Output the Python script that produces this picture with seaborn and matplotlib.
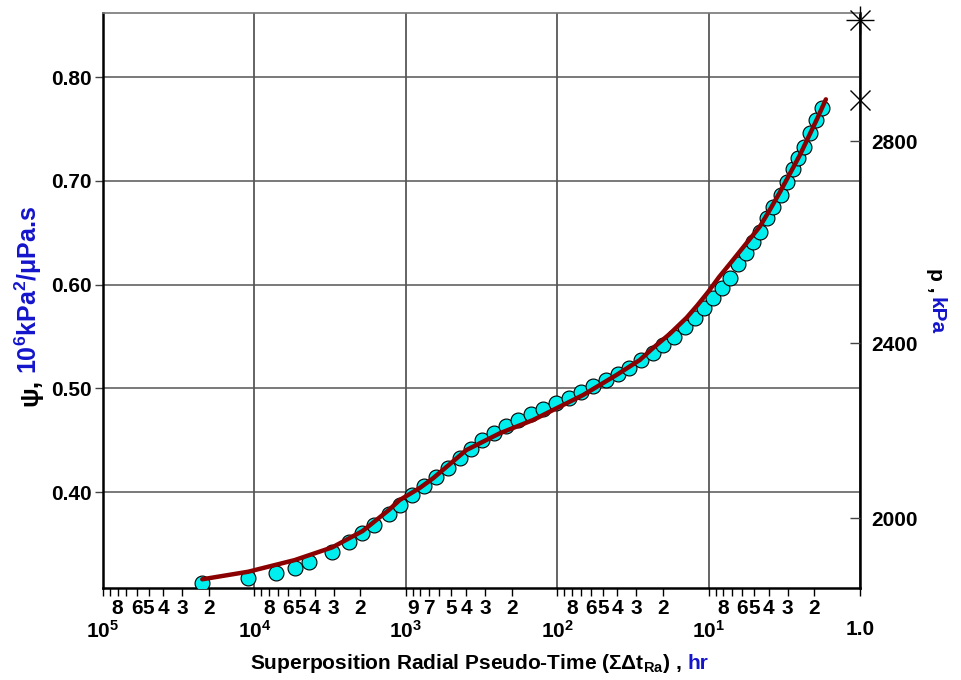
import matplotlib
matplotlib.use("Agg")
import matplotlib.pyplot as plt
import pandas as pd
import seaborn as sns

# Measured pseudo-pressure vs superposition radial pseudo-time
t_data = [22100, 10970, 7243, 5424, 4364, 3056, 2374, 1936, 1623, 1297,
          1086, 914, 761.5, 634.5, 528.6, 440.4, 372.5, 311.7, 261.3, 218.7,
          181.3, 147.9, 123.9, 102.2, 83.8, 69.8, 57.9, 47.7, 39.6, 33.6,
          28.1, 23.4, 19.96, 16.96, 14.34, 12.32, 10.69, 9.32, 8.21, 7.23,
          6.37, 5.67, 5.12, 4.58, 4.14, 3.74, 3.33, 3.05, 2.79, 2.56,
          2.33, 2.14, 1.95, 1.79]
psi_data = [0.3120, 0.3168, 0.3216, 0.3270, 0.3322, 0.3425, 0.3515, 0.3602, 0.3682, 0.3788,
            0.3875, 0.3976, 0.4058, 0.4147, 0.4234, 0.4325, 0.4412, 0.4501, 0.4572, 0.4639,
            0.4694, 0.4752, 0.4797, 0.4855, 0.4909, 0.4967, 0.5022, 0.5080, 0.5137, 0.5200,
            0.5272, 0.5343, 0.5417, 0.5497, 0.5587, 0.5680, 0.5771, 0.5867, 0.5963, 0.6060,
            0.6198, 0.6304, 0.6410, 0.6509, 0.6638, 0.6744, 0.6863, 0.6991, 0.7110, 0.7216,
            0.7328, 0.7463, 0.7586, 0.7698]

# Model match
t_model = [22100, 10970, 5424, 3056, 1930, 1294, 1097, 809, 661, 397.7,
           239.5, 144.3, 101.1, 67.4, 40.6, 28.5, 23.2, 18.03, 13.98, 11.86,
           10.05, 8.55, 7.23, 5.61, 4.58, 3.94, 3.38, 2.49, 1.93, 1.68]
psi_model = [0.3159, 0.3232, 0.3344, 0.3467, 0.3624, 0.3827, 0.3923, 0.4039, 0.4132, 0.4405,
             0.4566, 0.4694, 0.4807, 0.4935, 0.5128, 0.5272, 0.5390, 0.5525, 0.5680, 0.5800,
             0.5930, 0.6070, 0.6200, 0.6400, 0.6560, 0.6720, 0.6890, 0.7250, 0.7590, 0.7785]

# Pressure markers at the start of the time axis (psi values)
psi_initial = [0.8549, 0.7778]

# Pressure scale (kPa) and the pseudo-pressure where each value falls
p_ticks = [2000, 2400, 2800]
psi_at_p = [0.3749, 0.5434, 0.7383]

psi_ticks = [0.40, 0.50, 0.60, 0.70, 0.80]
decades = [1e5, 1e4, 1e3, 1e2, 1e1, 1.0]
decade_labels = [r"$10^{5}$", r"$10^{4}$", r"$10^{3}$", r"$10^{2}$", r"$10^{1}$", "1.0"]
labelled_minor = {
    4: [8, 6, 5, 4, 3, 2],
    3: [8, 6, 5, 4, 3, 2],
    2: [9, 7, 5, 4, 3, 2],
    1: [8, 6, 5, 4, 3, 2],
    0: [8, 6, 5, 4, 3, 2],
}

sns.set_style("white")
plt.rcParams["font.family"] = ["Liberation Sans", "DejaVu Sans"]
plt.rcParams["font.weight"] = "bold"
plt.rcParams["text.color"] = "black"
plt.rcParams["xtick.color"] = "black"
plt.rcParams["ytick.color"] = "black"
plt.rcParams["mathtext.fontset"] = "custom"
plt.rcParams["mathtext.rm"] = "Liberation Sans:bold"
plt.rcParams["mathtext.it"] = "Liberation Sans:bold"
plt.rcParams["mathtext.bf"] = "Liberation Sans:bold"
plt.rcParams["mathtext.default"] = "rm"

BLUE = "#1414cc"
W, H = 961, 680
fig = plt.figure(figsize=(W / 100, H / 100), dpi=100)
fig.patch.set_facecolor("white")
ax = fig.add_axes([103 / W, 1 - 588 / H, (860 - 103) / W, (588 - 13) / H])
ax.set_facecolor("white")
ax.set_xscale("log")

df_pts = pd.DataFrame({"t": t_data, "psi": psi_data})
df_fit = pd.DataFrame({"t": t_model, "psi": psi_model})

sns.scatterplot(data=df_pts, x="t", y="psi", ax=ax, s=115, color="#00eeee",
                edgecolor="black", linewidth=0.8, zorder=3, legend=False)
sns.lineplot(data=df_fit, x="t", y="psi", ax=ax, sort=False, estimator=None,
             color="#8b0000", linewidth=3.2, zorder=4, legend=False)

ax.set_xlim(1e5, 1.0)
ylim = (0.3075, 0.8617)
ax.set_ylim(*ylim)

# x ticks: decades below, digit multipliers just under the axis
ax.set_xticks(decades)
ax.set_xticklabels(decade_labels)
minor_pos, minor_lab = [], []
for d in range(4, -1, -1):
    for k in range(9, 1, -1):
        minor_pos.append(k * 10.0 ** d)
        minor_lab.append(str(k) if k in labelled_minor[d] else "")
ax.set_xticks(minor_pos, minor=True)
ax.set_xticklabels(minor_lab, minor=True)
ax.tick_params(axis="x", which="both", bottom=True, direction="out", length=6,
               width=1, color="black", labelcolor="black", labelsize=15)
ax.tick_params(axis="x", which="minor", pad=2)
ax.tick_params(axis="x", which="major", pad=17)

ax.set_yticks(psi_ticks)
ax.set_yticklabels([f"{v:.2f}" for v in psi_ticks])
ax.tick_params(axis="y", which="major", left=True, direction="out", length=6,
               width=1, color="#444444", labelcolor="black", labelsize=15, pad=2)
ax.yaxis.set_minor_locator(matplotlib.ticker.NullLocator())

ax.grid(True, which="major", axis="x", color="#3a3a3a", linewidth=1.1)
ax.grid(True, which="major", axis="y", color="#555555", linewidth=1.1)
ax.set_axisbelow(True)
ax.set_xlabel("")
ax.set_ylabel("")

for side in ["left", "bottom", "right"]:
    ax.spines[side].set_color("black")
    ax.spines[side].set_linewidth(1.8)
ax.spines["top"].set_color("#777777")
ax.spines["top"].set_linewidth(1.2)

# Right-hand pressure scale
ax2 = ax.twinx()
ax2.set_ylim(*ylim)
ax2.set_yticks(psi_at_p)
ax2.set_yticklabels([str(p) for p in p_ticks])
ax2.tick_params(axis="y", right=True, direction="in", length=7, width=1,
                color="#444444", labelcolor="black", labelsize=15, pad=8)
ax2.grid(False)
for s in ax2.spines.values():
    s.set_visible(False)

# Initial pressure markers on the right edge
ax.plot([1.0], [psi_initial[0]], marker="+", ms=20, mew=1, color="black",
        clip_on=False, zorder=6)
ax.plot([1.0, 1.0], psi_initial, marker="x", ms=14.5, mew=1, color="black",
        linestyle="none", clip_on=False, zorder=6)

# Axis titles with mixed colours
fig.canvas.draw()
renderer = fig.canvas.get_renderer()


def px(x, y):
    return x / W, 1 - y / H


x0, y0 = px(250, 669)
tx = fig.text(x0, y0, r"Superposition Radial Pseudo-Time (ΣΔt$_{Ra}$) ,",
              fontsize=15, fontweight="bold", color="black", va="baseline", ha="left")
bb = tx.get_window_extent(renderer)
fig.text((bb.x1 + 6) / W, y0, "hr", fontsize=15, fontweight="bold", color=BLUE,
         va="baseline", ha="left")

xl, yl = px(37, 406)
ty = fig.text(xl, yl, "ψ,", fontsize=19, fontweight="bold", color="black",
              rotation=90, rotation_mode="anchor", va="baseline", ha="left")
bb = ty.get_window_extent(renderer)
fig.text(xl, (bb.y1 + 5) / H, r"10$^{6}$kPa$^{2}$/μPa.s", fontsize=18,
         fontweight="bold", color=BLUE, rotation=90, rotation_mode="anchor",
         va="baseline", ha="left")

xr, yr = px(930, 268)
tp = fig.text(xr, yr, "p ,", fontsize=15, fontweight="bold", color="black",
              rotation=-90, rotation_mode="anchor", va="baseline", ha="left")
bb = tp.get_window_extent(renderer)
fig.text(xr, (bb.y0 - 5) / H, "kPa", fontsize=15, fontweight="bold", color=BLUE,
         rotation=-90, rotation_mode="anchor", va="baseline", ha="left")

fig.savefig("out.png", dpi=100, facecolor="white")
